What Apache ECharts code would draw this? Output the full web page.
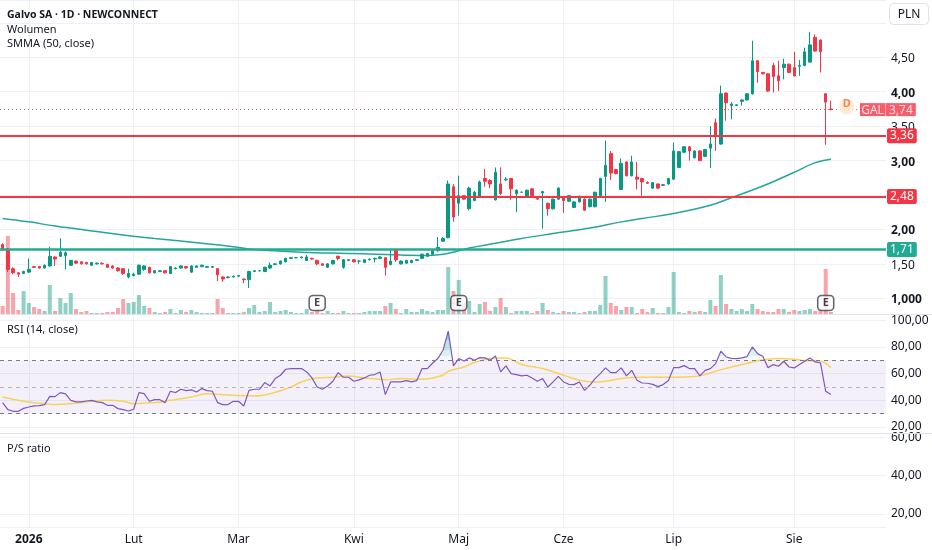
<!DOCTYPE html>
<html><head><meta charset="utf-8">
<script src="https://cdn.jsdelivr.net/npm/echarts@6/dist/echarts.min.js"></script>
<style>html,body{margin:0;padding:0;background:#fff}#c{width:932px;height:550px}</style>
</head><body><div id="c"></div>
<script>
// ---- trading days (categories) ----
const dec2025 = [19,22,23,29,30];
const jan2026 = [2,5,7,8,9,12,13,14,15,16,19,20,21,22,23,26,27,28,29,30];
const feb2026 = [2,3,4,5,6,9,10,11,12,13,16,17,18,19,20,23,24,25,26,27];
const mar2026 = [2,3,4,5,6,9,10,11,12,13,16,17,18,19,20,23,24,25,26,27,30,31];
const apr2026 = [1,2,7,8,9,10,13,14,15,16,17,20,21,22,23,24,27,28,29,30];
const may2026 = [4,5,6,7,8,11,12,13,14,15,18,19,20,21,22,25,26,27,28,29];
const jun2026 = [1,2,3,5,8,9,10,11,12,15,16,17,18,19,22,23,24,25,26,29,30];
const jul2026 = [1,2,3,6,7,8,9,10,13,14,15,16,17,20,21,22,23,24,27,28,29,30,31];
const aug2026 = [3,4,5,6,7,10,11,12,13,14,17,18,19,20,21,24,25,26];
const monthNames = ['Sty','Lut','Mar','Kwi','Maj','Cze','Lip','Sie','Wrz','Paź','Lis','Gru'];

// ---- OHLC (PLN) ----
const openP = [1.78,1.70,1.43,1.37,1.36,1.38,1.46,1.46,1.44,1.47, 1.60,1.61,1.62,1.48,1.54,1.53,1.52,1.48,1.50,1.51,
 1.49,1.47,1.44,1.43,1.31,1.33,1.35,1.42,1.45,1.37, 1.39,1.40,1.36,1.43,1.44,1.46,1.38,1.45,1.46,1.45,
 1.45,1.43,1.31,1.30,1.31,1.32,1.28,1.27,1.39,1.40, 1.39,1.44,1.49,1.50,1.53,1.58,1.59,1.59,1.55,1.58,
 1.55,1.50,1.45,1.50,1.61,1.45,1.55,1.56,1.54,1.52, 1.56,1.57,1.58,1.59,1.49,1.70,1.50,1.51,1.52,1.55,
 1.58,1.61,1.64,1.69,1.83,1.88,2.62,2.38,2.49,2.30, 2.42,2.47,2.74,2.71,2.43,2.66,2.72,2.74,2.52,2.54,
 2.47,2.59,2.45,2.53,2.38,2.30,2.44,2.47,2.41,2.32, 2.40,2.44,2.33,2.33,2.49,2.77,3.10,2.87,2.58,2.98,
 2.78,2.76,2.74,2.68,2.60,2.66,2.64,2.66,2.73,2.90, 3.12,3.20,3.04,3.14,3.06,3.18,3.55,3.24,3.98,3.80,
 3.80,3.86,3.88,3.97,4.45,4.28,4.26,4.38,4.23,4.35, 4.40,4.35,4.37,4.38,4.43,4.79,4.75,3.97,3.75];
const closeP = [1.71,1.42,1.37,1.35,1.39,1.42,1.45,1.44,1.48,1.61, 1.57,1.67,1.66,1.55,1.51,1.50,1.50,1.52,1.51,1.50,
 1.45,1.44,1.40,1.36,1.36,1.35,1.48,1.47,1.37,1.40, 1.40,1.37,1.46,1.44,1.47,1.44,1.47,1.47,1.48,1.46,
 1.46,1.34,1.28,1.31,1.32,1.33,1.27,1.39,1.40,1.40, 1.45,1.48,1.50,1.54,1.58,1.59,1.59,1.60,1.60,1.57,
 1.50,1.48,1.50,1.55,1.58,1.56,1.56,1.53,1.54,1.56, 1.57,1.58,1.60,1.45,1.54,1.56,1.54,1.55,1.55,1.56,
 1.64,1.65,1.69,1.74,1.87,2.66,2.18,2.49,2.44,2.60, 2.54,2.69,2.70,2.66,2.83,2.52,2.73,2.59,2.57,2.54,
 2.57,2.49,2.44,2.55,2.30,2.44,2.60,2.42,2.49,2.40, 2.48,2.28,2.44,2.54,2.74,2.93,2.82,2.81,2.96,2.78,
 2.98,2.73,2.69,2.67,2.68,2.60,2.65,2.74,3.14,3.13, 3.20,3.14,3.14,3.00,3.16,3.24,3.37,3.97,3.84,3.82,
 3.81,3.88,3.97,4.45,4.29,4.26,4.01,4.22,4.16,4.40, 4.28,4.23,4.38,4.58,4.68,4.59,4.58,3.85,3.74];
const lowP = [1.69,1.38,1.35,1.31,1.35,1.37,1.44,1.43,1.43,1.46, 1.47,1.60,1.42,1.47,1.50,1.49,1.49,1.47,1.49,1.49,
 1.44,1.43,1.39,1.34,1.29,1.32,1.34,1.40,1.36,1.36, 1.38,1.36,1.35,1.42,1.43,1.43,1.37,1.44,1.45,1.44,
 1.44,1.25,1.24,1.29,1.30,1.31,1.22,1.15,1.38,1.39, 1.38,1.43,1.48,1.49,1.52,1.57,1.58,1.58,1.54,1.56,
 1.48,1.47,1.44,1.49,1.55,1.43,1.54,1.52,1.50,1.51, 1.55,1.52,1.57,1.33,1.48,1.53,1.49,1.50,1.51,1.54,
 1.57,1.60,1.63,1.68,1.82,1.87,2.11,2.20,2.43,2.28, 2.41,2.46,2.62,2.60,2.42,2.50,2.70,2.43,2.25,2.53,
 2.46,2.48,2.43,2.01,2.20,2.29,2.43,2.24,2.40,2.31, 2.39,2.27,2.32,2.32,2.48,2.40,2.72,2.80,2.57,2.77,
 2.77,2.58,2.49,2.66,2.59,2.59,2.63,2.65,2.72,2.89, 3.11,3.00,3.03,2.99,3.05,2.89,3.14,3.23,3.58,3.60,
 3.79,3.80,3.87,3.96,4.13,4.25,4.00,3.99,4.01,4.18, 4.27,4.22,4.23,4.37,4.42,4.58,4.28,3.23,3.73];
const highP = [1.80,1.73,1.45,1.38,1.40,1.58,1.47,1.47,1.49,1.75, 1.61,1.87,1.68,1.56,1.55,1.54,1.53,1.53,1.52,1.52,
 1.50,1.48,1.45,1.44,1.43,1.37,1.49,1.48,1.46,1.41, 1.41,1.41,1.47,1.45,1.48,1.47,1.48,1.48,1.49,1.47,
 1.47,1.44,1.32,1.32,1.33,1.34,1.29,1.40,1.41,1.41, 1.46,1.52,1.51,1.55,1.59,1.60,1.60,1.61,1.63,1.59,
 1.56,1.51,1.51,1.56,1.62,1.57,1.57,1.57,1.55,1.57, 1.58,1.59,1.61,1.60,1.72,1.72,1.55,1.56,1.56,1.57,
 1.65,1.66,1.70,1.89,1.89,2.71,2.66,2.78,2.50,2.62, 2.56,2.71,2.88,2.73,2.90,2.90,2.76,2.75,2.58,2.55,
 2.58,2.60,2.46,2.56,2.39,2.45,2.61,2.48,2.50,2.41, 2.49,2.45,2.45,2.55,2.75,3.29,3.14,2.88,3.03,2.99,
 3.07,2.98,2.75,2.70,2.69,2.67,2.66,2.75,3.26,3.14, 3.21,3.21,3.15,3.15,3.17,3.50,3.61,4.09,3.99,3.85,
 3.82,3.89,3.98,4.74,4.46,4.29,4.27,4.42,4.45,4.48, 4.41,4.58,4.46,4.64,4.87,4.83,4.76,3.98,3.87];
// volume (thousand shares)
const volume = [8,78,21,4,23,11,7,5,3,29, 3,16,11,21,5,2,3,1,1,1, 2,2,6,15,11,12,19,8,6,2,
 1,2,5,1,4,2,4,2,1,1, 1,15,6,1,1,1,2,6,9,2, 3,12,2,3,4,2,1,1,5,2,
 4,1,3,1,1,3,1,1,1,2, 3,3,3,8,11,5,1,5,2,2, 5,3,2,4,4,47,23,34,11,13,
 2,10,12,3,7,16,7,1,3,3, 3,1,3,11,4,2,1,3,2,2, 1,2,3,3,9,38,11,8,4,7,
 7,1,5,2,6,1,1,7,42,2, 1,3,2,3,2,14,8,39,10,5, 3,5,3,10,5,3,2,2,5,5,
 2,4,3,4,5,3,4,45,2];
// SMMA(50) read at [trading-day index, value]
const smmaPoints = [[0,2.16],[5,2.11],[10,2.05],[19,1.96],[23,1.92],[29,1.87],[38,1.80],[44,1.75],[48,1.71],[52,1.69],
 [57,1.67],[67,1.65],[76,1.63],[81,1.62],[84,1.64],[86,1.67],[89,1.73],[94,1.80],[99,1.87],[105,1.94],
 [112,2.02],[118,2.11],[122,2.16],[128,2.23],[135,2.35],[139,2.46],[145,2.63],[151,2.83],[155,2.97],[158,3.02]];
// RSI(14)
const rsi = [38.3,33,31.8,31.8,34,35,35.8,36,36.8,43,42.8,45.8,44.8,40,38.8,38.8,39.5,40,38.8,38.3,
 36.3,36.3,33.8,33,32,33.3,45.8,45,39.3,40.5,40.5,38.3,46.8,45.8,48.3,47.3,47.8,46.3,48.8,47.3,
 46.8,38.3,36.8,36.8,39.3,39.3,35.8,47.5,48.3,48.3,53.3,50.8,56.3,58.8,63.3,63.8,63.8,63.8,61.3,56.8,
 50,48.3,50.8,54.3,60.8,57.3,57.3,54.3,55.3,56.8,58.8,59.3,61.3,44.3,53.8,53.8,53.8,54.8,53.8,54.8,
 63.8,63.8,67.8,71.3,77.5,91.8,65.8,71.3,69.5,71.8,70,72,71.8,70,73.3,61.3,65.8,60,59.3,58.3,
 58.8,56.8,54.3,56.3,50,53.8,58,53.8,52,51.8,53.8,47.5,51.3,56.3,60,64.3,60.8,60.8,64.3,58.3,
 62.5,55,53,52.8,52,50.3,51.8,54.8,64.5,64.5,66,63.8,63.8,58.3,62.5,63.8,67.5,76.8,72.5,71.5,
 71.3,71.8,72.8,80,75,73,64.5,66.8,65.5,69.3,65,64.3,66.8,69.3,71.8,68.8,68,46.8,44.3];
const rsiMaPoints = [[0,42.5],[4,39.3],[8,37.5],[10,36.8],[13,37.5],[17,39.3],[20,40],[23,39.3],[25,37.5],[29,38.3],
 [32,40],[36,42.5],[39,45],[41,44.5],[44,43.8],[48,43.3],[51,45],[55,50],[57,53.8],[60,56.8],[63,57.3],[66,58.3],
 [69,56.8],[73,55.5],[76,56.3],[80,55.8],[84,58.8],[85,61.8],[88,65],[90,68.3],[94,71.8],[96,71.8],[99,66.8],
 [103,63.8],[107,58.8],[110,55],[113,53.8],[115,54.3],[118,56.3],[121,57.3],[124,57.3],[128,57.3],[132,57.8],
 [134,59.3],[137,63],[141,66.8],[143,68.8],[146,70.8],[148,71.3],[151,70.8],[153,69.8],[156,69.3],[158,64.3]];
// horizontal levels
const redLevels = [3.36, 2.48];
const greenLevels = [1.71];
const ticker = 'GAL';
const earningsDates = ['2026-03-23','2026-05-04','2026-08-11'];
const dividendDates = ['2026-08-17'];

// ---- build ----
const pad = n => String(n).padStart(2,'0');
const mk = (y,m,list) => list.map(d => y+'-'+pad(m)+'-'+pad(d));
const categories = [].concat(mk(2025,12,dec2025), mk(2026,1,jan2026), mk(2026,2,feb2026), mk(2026,3,mar2026),
  mk(2026,4,apr2026), mk(2026,5,may2026), mk(2026,6,jun2026), mk(2026,7,jul2026), mk(2026,8,aug2026));
const monthStart = new Set();
categories.forEach((c,i) => { if (i>0 && c.slice(5,7)!==categories[i-1].slice(5,7)) monthStart.add(i); });
const fmt2 = v => v.toFixed(2).replace('.', ',');
const UP = '#089981', DN = '#f23645';
const FONT = 'Noto Sans';
const lastClose = closeP[closeP.length-1];

const candleData = closeP.map((c,i) => [openP[i], c, lowP[i], highP[i]]);
const volData = volume.map((v,i) => ({value: v, itemStyle: {color: closeP[i] >= openP[i] ? 'rgba(8,153,129,0.45)' : 'rgba(242,54,69,0.45)'}}));

const GL = -3.28, GW = 889.28;
const grids = [
  {left: GL, width: GW, top: 0, height: 314},
  {left: GL, width: GW, top: 314, height: 119},
  {left: GL, width: GW, top: 433, height: 94}
];
function xAx(gi, show) {
  return {
    type: 'category', gridIndex: gi, data: categories, boundaryGap: true,
    axisLine: {show: false}, axisTick: {show: false},
    axisLabel: show ? {
      show: true, interval: (idx) => monthStart.has(idx), margin: 7, color: '#131722', fontSize: 12, fontFamily: FONT,
      formatter: (v) => { const m = +v.slice(5,7); return m === 1 ? '{y|' + v.slice(0,4) + '}' : monthNames[m-1]; },
      rich: {y: {fontWeight: 'bold', fontSize: 12, color: '#131722', fontFamily: FONT}}
    } : {show: false},
    splitLine: {show: true, alignWithLabel: true, interval: (idx) => monthStart.has(idx), lineStyle: {color: '#eef0f5', width: 1}}
  };
}
const lblBase = {color: '#131722', fontSize: 12, fontFamily: FONT, margin: 5};
function priceFmt(v) {
  const h = v*2;
  if (Math.abs(h - Math.round(h)) > 1e-6) return '';
  const r = Math.round(h)/2;
  if (r === 5 || r === 2.5) return '';
  if (r === 1) return '{b|1,000}';
  return Number.isInteger(r) ? '{b|' + fmt2(r) + '}' : '{n|' + fmt2(r) + '}';
}
const mult = (step) => (v) => (Math.abs(v/step - Math.round(v/step)) < 1e-6 ? fmt2(v) : '');

const tag = (val, color) => ({
  yAxis: val,
  lineStyle: {color: color, width: color === DN ? 2 : 2.5, type: 'solid'},
  label: {show: true, position: 'end', distance: 1, formatter: fmt2(val), color: '#fff', backgroundColor: color,
    padding: [1,3,0,3], fontSize: 12, lineHeight: 14, borderRadius: 2, fontFamily: FONT}
});
const levelLines = redLevels.map(v => tag(v, DN)).concat(greenLevels.map(v => tag(v, '#22ab94')));
levelLines.push({
  yAxis: lastClose,
  lineStyle: {color: DN, width: 1, type: [1,3], opacity: 0.8},
  label: {show: true, position: 'end', distance: -26, formatter: '{g|' + ticker + '}{s|}{v|' + fmt2(lastClose) + '}',
    rich: {
      g: {backgroundColor: DN, color: '#fff', width: 25, align: 'center', fontSize: 12, lineHeight: 14, padding: [1,0,0,0], fontFamily: FONT},
      s: {width: 1, backgroundColor: '#f7a1a8', lineHeight: 14, padding: [1,0,0,0]},
      v: {backgroundColor: DN, color: '#fff', fontSize: 12, lineHeight: 14, padding: [1,3,0,3], fontFamily: FONT}
    }}
});

const option = {
  animation: false,
  textStyle: {fontFamily: FONT},
  grid: grids,
  xAxis: [xAx(0,false), xAx(1,false), xAx(2,true)],
  yAxis: [
    {type: 'value', gridIndex: 0, position: 'right', min: 0.772, max: 5.332, splitNumber: 9,
      axisLine: {show: false}, axisTick: {show: false}, splitLine: {lineStyle: {color: '#eef0f5'}},
      axisLabel: Object.assign({}, lblBase, {formatter: priceFmt, padding: [3,0,0,0],
        rich: {b: {fontWeight: 'bold', color: '#131722', fontSize: 12, fontFamily: FONT}, n: {color: '#131722', fontSize: 12, fontFamily: FONT}}})},
    {type: 'value', gridIndex: 0, min: 0, max: 314, show: false},
    {type: 'value', gridIndex: 1, position: 'right', min: 15.54, max: 104.68, splitNumber: 4,
      axisLine: {show: false}, axisTick: {show: false}, splitLine: {lineStyle: {color: '#eef0f5'}},
      axisLabel: Object.assign({}, lblBase, {formatter: mult(20)})},
    {type: 'value', gridIndex: 2, position: 'right', min: 13.11, max: 62.39, splitNumber: 2,
      axisLine: {show: false}, axisTick: {show: false}, splitLine: {lineStyle: {color: '#eef0f5'}},
      axisLabel: Object.assign({}, lblBase, {formatter: mult(20)})}
  ],
  visualMap: [{
    type: 'piecewise', show: false, seriesIndex: 7, dimension: 1,
    pieces: [
      {lte: 70, color: 'rgba(255,255,255,0)'},
      {gt: 70, lte: 73, color: 'rgba(34,171,148,0.06)'},
      {gt: 73, lte: 78, color: 'rgba(34,171,148,0.16)'},
      {gt: 78, lte: 85, color: 'rgba(34,171,148,0.30)'},
      {gt: 85, color: 'rgba(34,171,148,0.48)'}
    ]
  }],
  series: [
    {type: 'bar', name: 'Wolumen', xAxisIndex: 0, yAxisIndex: 1, data: volData, barWidth: 4, z: 1, silent: true},
    {type: 'candlestick', name: 'GAL', xAxisIndex: 0, yAxisIndex: 0, data: candleData, barWidth: 3, z: 4,
      itemStyle: {color: UP, color0: DN, borderColor: UP, borderColor0: DN, borderWidth: 1, borderColorDoji: UP},
      markLine: {symbol: ['none','none'], silent: true, animation: false, data: levelLines, z: 5}},
    {type: 'line', name: 'SMMA', xAxisIndex: 0, yAxisIndex: 0, data: smmaPoints, smooth: 0.4, connectNulls: true,
      showSymbol: false, symbol: 'none', lineStyle: {color: '#26a69a', width: 1.5}, z: 3},
    {type: 'scatter', name: 'E', xAxisIndex: 0, yAxisIndex: 1, z: 6,
      data: earningsDates.map(d => [categories.indexOf(d), 11]),
      symbol: 'roundRect', symbolSize: [16,15],
      itemStyle: {color: '#ffffff', borderColor: '#3b3f4a', borderWidth: 1.5},
      label: {show: true, position: 'inside', formatter: 'E', color: '#131722', fontSize: 11, fontWeight: 'bold', fontFamily: FONT}},
    {type: 'scatter', name: 'D', xAxisIndex: 0, yAxisIndex: 0, z: 6,
      data: dividendDates.map(d => [categories.indexOf(d), lastClose]),
      symbol: 'circle', symbolSize: 15, symbolOffset: [0,-3],
      itemStyle: {color: '#fde7c8'},
      label: {show: true, position: 'inside', formatter: 'D', color: '#f0693a', fontSize: 11, fontWeight: 'bold', fontFamily: FONT, offset: [0,-3]}},
    {type: 'line', name: 'RSI', xAxisIndex: 1, yAxisIndex: 2, data: rsi, symbol: 'none', z: 4,
      lineStyle: {color: '#7e57c2', width: 1.2},
      markArea: {silent: true, itemStyle: {color: 'rgba(126,87,194,0.09)'}, data: [[{yAxis: 30}, {yAxis: 70}]]},
      markLine: {symbol: ['none','none'], silent: true, label: {show: false},
        data: [
          {yAxis: 70, lineStyle: {color: '#787b86', type: [4,4], width: 1}},
          {yAxis: 50, lineStyle: {color: '#b2b5be', type: [4,4], width: 1}},
          {yAxis: 30, lineStyle: {color: '#787b86', type: [4,4], width: 1}}
        ]}},
    {type: 'line', name: 'RSI MA', xAxisIndex: 1, yAxisIndex: 2, data: rsiMaPoints, smooth: 0.4, symbol: 'none', z: 3,
      lineStyle: {color: '#f9d25a', width: 1.5}},
    {type: 'line', name: 'RSI OB', xAxisIndex: 1, yAxisIndex: 2, data: rsi, symbol: 'none', z: 2,
      lineStyle: {width: 0}, areaStyle: {origin: 70, opacity: 1}},
    {type: 'line', name: 'P/S', xAxisIndex: 2, yAxisIndex: 3, data: [], symbol: 'none'}
  ],
  graphic: [
    {type: 'line', shape: {x1: 0, y1: 314.5, x2: 932, y2: 314.5}, style: {stroke: '#e0e3eb', lineWidth: 1}, z: 10, silent: true},
    {type: 'line', shape: {x1: 0, y1: 433.5, x2: 932, y2: 433.5}, style: {stroke: '#e0e3eb', lineWidth: 1}, z: 10, silent: true},
    {type: 'text', left: 7, top: 9.5, z: 10, style: {text: 'Galvo SA · 1D · NEWCONNECT', fill: '#131722', font: 'bold 10.5px "Noto Sans"'}},
    {type: 'text', left: 7, top: 24, z: 10, style: {text: 'Wolumen', fill: '#131722', font: '11px "Noto Sans"'}},
    {type: 'text', left: 7, top: 38.3, z: 10, style: {text: 'SMMA (50, close)', fill: '#131722', font: '11px "Noto Sans"'}},
    {type: 'text', left: 7, top: 324.5, z: 10, style: {text: 'RSI (14, close)', fill: '#131722', font: '11px "Noto Sans"'}},
    {type: 'text', left: 7, top: 443.5, z: 10, style: {text: 'P/S ratio', fill: '#131722', font: '11px "Noto Sans"'}},
    {type: 'group', left: 889, top: 3, z: 20, children: [
      {type: 'rect', shape: {x: 0, y: 0, width: 39, height: 21, r: 4}, style: {fill: '#fff', stroke: '#e0e3eb', lineWidth: 1}},
      {type: 'text', x: 19.5, y: 11, style: {text: 'PLN', fill: '#131722', font: '12px "Noto Sans"', align: 'center', verticalAlign: 'middle'}}
    ]}
  ]
};
const chart = echarts.init(document.getElementById('c'));
chart.setOption(option);
</script>
</body></html>
